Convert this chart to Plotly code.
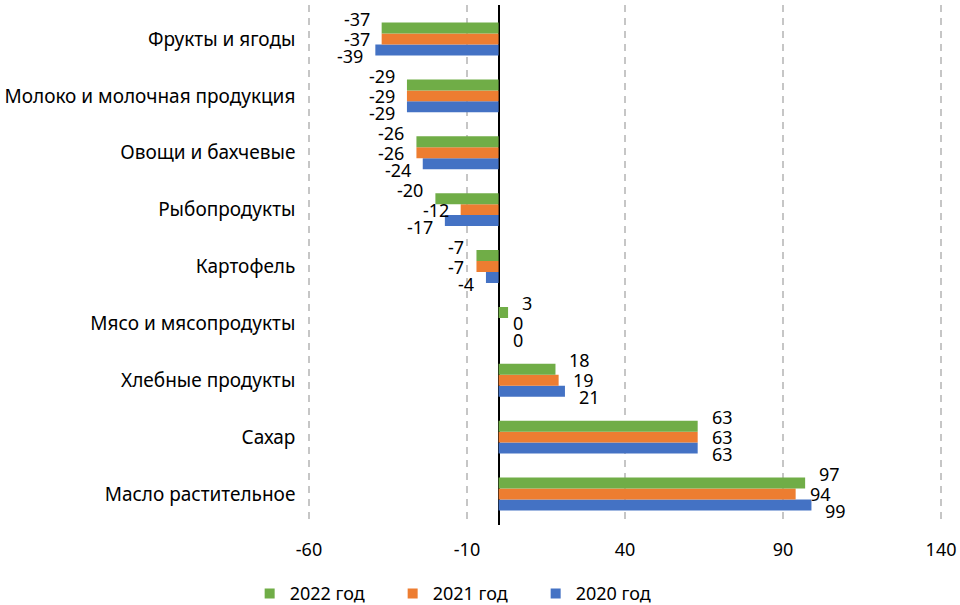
import plotly.graph_objects as go

categories = ["Масло растительное", "Сахар", "Хлебные продукты", "Мясо и мясопродукты",
              "Картофель", "Рыбопродукты", "Овощи и бахчевые",
              "Молоко и молочная продукция", "Фрукты и ягоды"]
v2020 = [99, 63, 21, 0, -4, -17, -24, -29, -39]
v2021 = [94, 63, 19, 0, -7, -12, -26, -29, -37]
v2022 = [97, 63, 18, 3, -7, -20, -26, -29, -37]
tick_vals = [-60, -10, 40, 90, 140]

series = [("2020 год", v2020, "#4472C4", -17),
          ("2021 год", v2021, "#ED7D31", 0),
          ("2022 год", v2022, "#70AD47", 20)]

FONT = "Noto Sans"
W, H = 960, 605
fig = go.Figure()
for name, vals, col, ysh in series:
    fig.add_trace(go.Bar(y=categories, x=vals, orientation="h", name=name,
                         marker=dict(color=col, line=dict(width=0)),
                         showlegend=False, hoverinfo="x+name"))
# legend with square markers (order 2022, 2021, 2020)
for name, vals, col, ysh in reversed(series):
    fig.add_trace(go.Scatter(x=[None], y=[None], mode="markers", name=name,
                             marker=dict(symbol="square", size=10, color=col)))

annotations = []
for name, vals, col, ysh in series:
    for c, v in zip(categories, vals):
        annotations.append(dict(x=v, y=c, xref="x", yref="y", text=str(v),
                                showarrow=False,
                                xanchor="left" if v >= 0 else "right",
                                xshift=12 if v >= 0 else -10, yshift=ysh,
                                font=dict(family=FONT, size=18, color="#000000")))

fig.update_layout(
    width=W, height=H,
    margin=dict(l=0, r=0, t=0, b=0, autoexpand=False),
    barmode="group", bargap=0.42, bargroupgap=0,
    plot_bgcolor="white", paper_bgcolor="white",
    font=dict(family=FONT, size=18, color="#000000"),
    annotations=annotations,
    legend=dict(orientation="h", xref="paper", yref="paper",
                x=0.4835, xanchor="center", y=-0.012, yanchor="bottom",
                font=dict(family=FONT, size=18), entrywidth=98, entrywidthmode="pixels",
                itemwidth=30),
    xaxis=dict(domain=[307.4 / W, 942.6 / W], range=[-60.5, 140.5], tickvals=tick_vals,
               ticktext=[str(t) for t in tick_vals],
               showgrid=True, gridcolor="#C6C6C6", griddash="7px,6px", gridwidth=2,
               zeroline=True, zerolinecolor="#000000", zerolinewidth=1.5,
               showline=False, ticks="", tickfont=dict(family=FONT, size=18),
               ticklabelstandoff=12, automargin=False),
    yaxis=dict(domain=[80 / H, 600 / H], categoryorder="array", categoryarray=categories,
               showgrid=False, showline=False, ticks="", tickfont=dict(family=FONT, size=19),
               ticklabelstandoff=11, automargin=False),
)
fig.write_html("out.html", config={"displayModeBar": False},
               post_script="document.body.style.margin='0';document.body.style.overflow='hidden';")
